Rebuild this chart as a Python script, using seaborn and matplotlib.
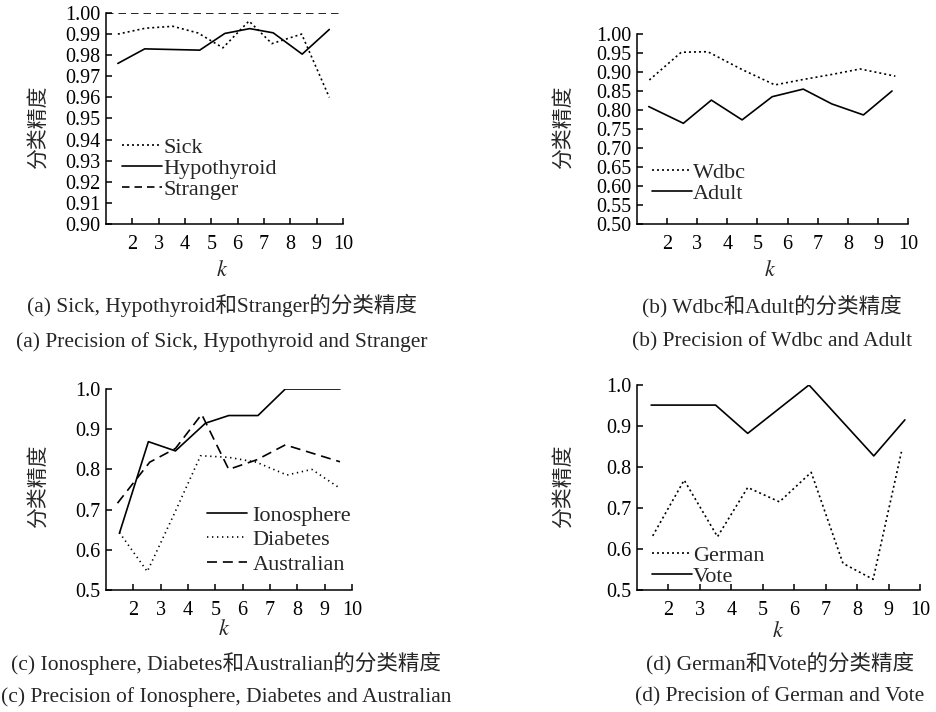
import matplotlib
matplotlib.use("Agg")
import matplotlib.pyplot as plt
import seaborn as sns
import pandas as pd

sns.set_theme(style="ticks")
plt.rcParams["font.family"] = ["Liberation Serif", "Noto Sans CJK SC"]
plt.rcParams["mathtext.fontset"] = "stix"

# ---- (a) Sick / Hypothyroid / Stranger ----
sick_k = [1.45, 2.5, 3.54, 4.5, 5.44, 6.43, 7.3, 8.43, 9.48]
sick_acc = [0.990, 0.9928, 0.9937, 0.9905, 0.9835, 0.9962, 0.9855, 0.990, 0.960]
hypo_k = [1.45, 2.47, 3.5, 4.56, 5.51, 6.46, 7.35, 8.45, 9.48]
hypo_acc = [0.9761, 0.983, 0.9827, 0.9824, 0.9903, 0.9926, 0.9906, 0.9805, 0.9922]
stranger_k = [1.0, 10.0]
stranger_acc = [1.00, 1.00]

# ---- (b) Wdbc / Adult ----
wdbc_k = [1.41, 2.47, 3.35, 4.5, 5.58, 6.5, 7.5, 8.41, 9.58]
wdbc_acc = [0.879, 0.952, 0.9534, 0.906, 0.866, 0.880, 0.894, 0.908, 0.889]
adult_k = [1.39, 2.54, 3.47, 4.49, 5.49, 6.52, 7.47, 8.52, 9.47]
adult_acc = [0.809, 0.765, 0.826, 0.774, 0.835, 0.855, 0.816, 0.787, 0.850]

# ---- (c) Ionosphere / Diabetes / Australian ----
iono_k = [1.49, 2.55, 3.54, 4.64, 5.49, 6.56, 7.56, 9.56]
iono_acc = [0.641, 0.869, 0.846, 0.915, 0.934, 0.934, 1.0, 1.0]
diab_k = [1.49, 2.51, 3.5, 4.46, 5.49, 6.5, 7.62, 8.53, 9.56]
diab_acc = [0.643, 0.546, 0.69, 0.834, 0.830, 0.818, 0.786, 0.800, 0.753]
aus_k = [1.42, 2.6, 3.54, 4.5, 5.49, 6.52, 7.56, 9.56]
aus_acc = [0.716, 0.818, 0.852, 0.937, 0.800, 0.824, 0.861, 0.819]

# ---- (d) German / Vote ----
german_k = [1.5, 2.5, 3.56, 4.52, 5.53, 6.54, 7.55, 8.51, 9.41]
german_acc = [0.632, 0.768, 0.630, 0.750, 0.715, 0.787, 0.565, 0.526, 0.837]
vote_k = [1.45, 3.5, 4.52, 6.47, 8.53, 9.52]
vote_acc = [0.951, 0.951, 0.882, 1.0, 0.827, 0.915]

k_ticks = [2, 3, 4, 5, 6, 7, 8, 9, 10]
ylab = "分类精度"

captions = {
    "a": ("(a) Sick, Hypothyroid和Stranger的分类精度",
          "(a) Precision of Sick, Hypothyroid and Stranger"),
    "b": ("(b) Wdbc和Adult的分类精度", "(b) Precision of Wdbc and Adult"),
    "c": ("(c) Ionosphere, Diabetes和Australian的分类精度",
          "(c) Precision of Ionosphere, Diabetes and Australian"),
    "d": ("(d) German和Vote的分类精度", "(d) Precision of German and Vote"),
}

DOTTED = (0, (1.2, 1.8))
FINE_DOT = (0, (0.8, 2.2))
DASHED = (0, (4.5, 3))
LONG_DASH = (0, (6, 3.5))

W, H = 936, 712
fig = plt.figure(figsize=(W / 100, H / 100), dpi=100)


def px_axes(left, top, right, bottom):
    return fig.add_axes([left / W, 1 - bottom / H, (right - left) / W, (bottom - top) / H])


def draw(ax, series, ylim, yticks, yfmt):
    for k, acc, ls, name in series:
        df = pd.DataFrame({"k": k, "acc": acc})
        sns.lineplot(data=df, x="k", y="acc", ax=ax, color="black", linewidth=1.2,
                     linestyle=ls, label=name, sort=False, legend=False)
    ax.set_xlim(1, 10)
    ax.set_ylim(*ylim)
    ax.set_xticks(k_ticks)
    ax.set_yticks(yticks)
    ax.set_yticklabels([yfmt.format(v) for v in yticks])
    ax.tick_params(axis="both", direction="in", length=4, width=1.1, color="black",
                   labelsize=14.5, labelcolor="black")
    ax.tick_params(axis="x", pad=8)
    ax.tick_params(axis="y", pad=4)
    for s in ("top", "right"):
        ax.spines[s].set_visible(False)
    for s in ("left", "bottom"):
        ax.spines[s].set_color("black")
        ax.spines[s].set_linewidth(1.1)
    ax.set_xlabel("")
    ax.set_ylabel("")
    ax.set_facecolor("white")


def legend(ax, x_px, y_px, spacing=0.03, textpad=0.05):
    ax.legend(loc="upper left", bbox_to_anchor=(x_px / W, 1 - y_px / H),
              bbox_transform=fig.transFigure, frameon=False, fontsize=16,
              handlelength=1.8, handletextpad=textpad, labelspacing=spacing,
              borderpad=0, borderaxespad=0)


# (a)
ax_a = px_axes(106, 13, 343, 224)
draw(ax_a, [(sick_k, sick_acc, DOTTED, "Sick"),
            (hypo_k, hypo_acc, "-", "Hypothyroid"),
            (stranger_k, stranger_acc, DASHED, "Stranger")],
     (0.90, 1.00), [0.90 + 0.01 * i for i in range(11)], "{:.2f}")
legend(ax_a, 122, 137)

# (b)
ax_b = px_axes(637, 34, 908, 224)
draw(ax_b, [(wdbc_k, wdbc_acc, DOTTED, "Wdbc"),
            (adult_k, adult_acc, "-", "Adult")],
     (0.50, 1.00), [0.50 + 0.05 * i for i in range(11)], "{:.2f}")
legend(ax_b, 652, 162)

# (c)
ax_c = px_axes(106, 389, 352, 590)
draw(ax_c, [(iono_k, iono_acc, "-", "Ionosphere"),
            (diab_k, diab_acc, FINE_DOT, "Diabetes"),
            (aus_k, aus_acc, LONG_DASH, "Australian")],
     (0.5, 1.0), [0.5 + 0.1 * i for i in range(6)], "{:.1f}")
legend(ax_c, 207, 505, spacing=0.18, textpad=0.25)

# (d)
ax_d = px_axes(637, 385, 920, 590)
draw(ax_d, [(german_k, german_acc, DOTTED, "German"),
            (vote_k, vote_acc, "-", "Vote")],
     (0.5, 1.0), [0.5 + 0.1 * i for i in range(6)], "{:.1f}")
legend(ax_d, 652, 545)

# axis titles and captions
for x_px, y_px in [(38, 127), (563, 127), (38, 486), (563, 486)]:
    fig.text(x_px / W, 1 - y_px / H, ylab, rotation=90, ha="center", va="center",
             fontsize=15, family=["Noto Sans CJK SC"])
for x_px, y_px in [(222, 271), (770, 271), (224, 630), (778, 632)]:
    fig.text(x_px / W, 1 - y_px / H, "$k$", ha="center", va="center", fontsize=16)

for key, cx, y1, y2 in [("a", 222, 305, 342), ("b", 772, 306, 342),
                        ("c", 226, 663, 697), ("d", 780, 663, 697)]:
    l1, l2 = captions[key]
    fig.text(cx / W, 1 - y1 / H, l1, ha="center", va="center", fontsize=15.5)
    fig.text(cx / W, 1 - y2 / H, l2, ha="center", va="center", fontsize=15.5)

fig.savefig("out.png", dpi=100, facecolor="white")
